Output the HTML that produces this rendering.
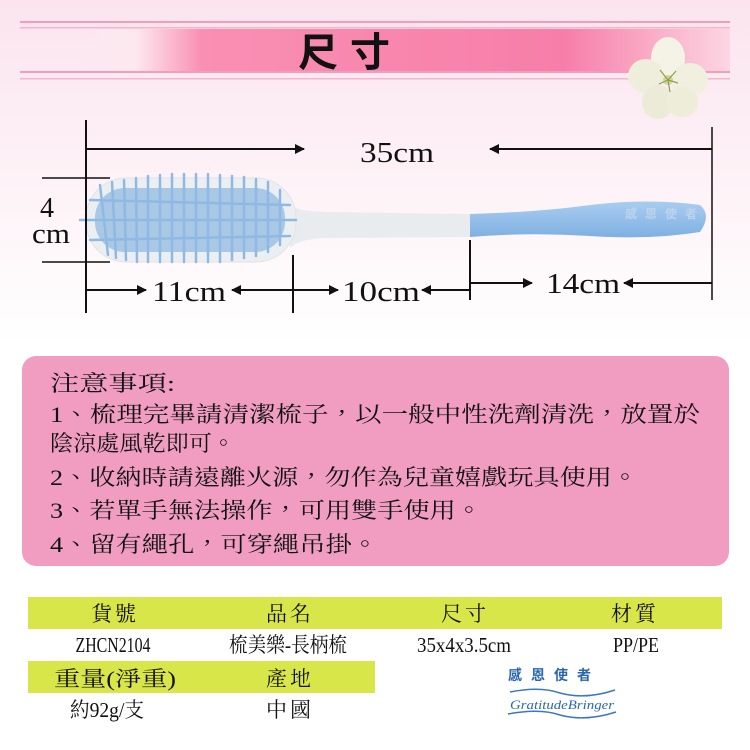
<!DOCTYPE html>
<html><head><meta charset="utf-8"><style>
html,body{margin:0;padding:0;background:#fff}
svg{display:block}
.s{font-family:"Liberation Serif","Noto Serif CJK TC","Noto Serif CJK SC",serif;fill:#111}
</style></head><body>
<svg width="750" height="750" viewBox="0 0 750 750" xmlns="http://www.w3.org/2000/svg">
<defs>
<linearGradient id="bg" x1="0" y1="0" x2="0" y2="1">
<stop offset="0" stop-color="#fbe4ee"/><stop offset="1" stop-color="#ffffff"/></linearGradient>
<linearGradient id="band" x1="0" y1="0" x2="1" y2="0">
<stop offset="0" stop-color="#fde8ef" stop-opacity="0"/><stop offset="0.1" stop-color="#fde8ef"/><stop offset="0.2" stop-color="#f98fb3"/><stop offset="0.75" stop-color="#f77ea8"/><stop offset="1" stop-color="#fcd6e3"/></linearGradient>
<linearGradient id="blue" x1="0" y1="0" x2="0" y2="1">
<stop offset="0" stop-color="#a9cdf0"/><stop offset="1" stop-color="#7fb0e2"/></linearGradient>
<marker id="ah" viewBox="0 0 10 10" refX="9" refY="5" markerWidth="5" markerHeight="5" orient="auto-start-reverse"><path d="M0,0 L10,5 L0,10 z" fill="#111"/></marker>
</defs>
<rect x="0" y="0" width="750" height="345" fill="url(#bg)"/>
<!-- title band -->
<rect x="20" y="21" width="710" height="2" fill="#f59cbb"/>
<rect x="20" y="27" width="710" height="1.5" fill="#f8b3c9"/>
<rect x="70" y="29" width="660" height="42" fill="url(#band)"/>
<rect x="20" y="71" width="710" height="2" fill="#f59cbb"/>
<rect x="20" y="78" width="710" height="1.5" fill="#f8b3c9"/>
<text x="350" y="66" font-family="'Noto Sans CJK TC','Noto Sans CJK SC',sans-serif" font-size="40" font-weight="bold" text-anchor="middle" fill="#111" letter-spacing="12">尺寸</text>
<!-- flower -->
<g transform="translate(668,80)">
<ellipse cx="0" cy="-22" rx="17" ry="21" fill="#f5f3e6"/>
<ellipse cx="-22" cy="-4" rx="18" ry="17" fill="#efeedd"/>
<ellipse cx="22" cy="0" rx="18" ry="17" fill="#f1f0e0"/>
<ellipse cx="-10" cy="22" rx="16" ry="17" fill="#ecebd8"/>
<ellipse cx="14" cy="22" rx="16" ry="15" fill="#eeedda"/>
<circle cx="0" cy="0" r="5" fill="#cfd79a"/>
<path d="M0 0 L-8 -10 M0 0 L8 -9 M0 0 L10 3 M0 0 L-9 4 M0 0 L2 12" stroke="#8ca04a" stroke-width="1.2"/>
</g>
<!-- brush -->
<path d="M290 205 Q300 212 330 212 L470 214 L470 237 L330 238 Q300 238 290 248 Z" fill="#e9ecee"/>
<path d="M470 214 Q540 212 590 205 Q650 198 700 205 Q712 215 700 232 Q650 240 590 236 Q530 232 470 237 Z" fill="url(#blue)"/>
<rect x="86" y="178" width="210" height="84" rx="40" fill="#eceff2" stroke="#dfe3e7"/>
<rect x="95" y="188" width="190" height="64" rx="30" fill="#a8c8e6"/>
<g stroke="#8fb9e3" stroke-width="2.5" stroke-linecap="round">
<path d="M100 185 L108 255 M112 182 L116 258 M124 180 L126 260 M136 178 L137 262 M148 176 L148 262 M160 175 L160 262 M172 174 L172 262 M184 174 L184 262 M196 174 L196 262 M208 174 L208 262 M220 175 L220 262 M232 176 L232 260 M244 177 L244 258 M256 179 L256 256 M268 182 L268 252 M280 190 L280 245"/>
<path d="M80 220 L296 220 M90 200 L290 205 M90 240 L290 236"/>
</g>
<!-- dimension lines -->
<g stroke="#111" stroke-width="2" fill="none">
<line x1="86" y1="120" x2="86" y2="313"/>
<line x1="293" y1="255" x2="293" y2="313"/>
<line x1="470" y1="240" x2="470" y2="300"/>
<line x1="712" y1="127" x2="712" y2="300" stroke-width="1.5"/>
<line x1="42" y1="178" x2="110" y2="178" stroke-width="1.5"/>
<line x1="42" y1="262" x2="110" y2="262" stroke-width="1.5"/>
<line x1="86" y1="149" x2="304" y2="149" marker-end="url(#ah)"/>
<line x1="712" y1="149" x2="490" y2="149" marker-end="url(#ah)"/>
<line x1="86" y1="290" x2="146" y2="290" marker-end="url(#ah)"/>
<line x1="232" y1="290" x2="338" y2="290" marker-start="url(#ah)" marker-end="url(#ah)"/>
<line x1="470" y1="290" x2="422" y2="290" marker-end="url(#ah)"/>
<line x1="470" y1="283" x2="532" y2="283" marker-end="url(#ah)"/>
<line x1="712" y1="283" x2="624" y2="283" marker-end="url(#ah)"/>
</g>
<g class="s" font-size="28">
<text x="360" y="162" textLength="74" lengthAdjust="spacingAndGlyphs">35cm</text>
<text x="152" y="301" textLength="74" lengthAdjust="spacingAndGlyphs">11cm</text>
<text x="342" y="301" textLength="78" lengthAdjust="spacingAndGlyphs">10cm</text>
<text x="546" y="293" textLength="74" lengthAdjust="spacingAndGlyphs">14cm</text>
<text x="40" y="217">4</text>
<text x="32" y="243" textLength="38" lengthAdjust="spacingAndGlyphs">cm</text>
</g>
<g font-family="'Noto Sans CJK TC',sans-serif" font-size="12" font-weight="bold" fill="#c5d8ee" opacity="0.8"><text x="625" y="218" letter-spacing="8">感恩使者</text></g>
<!-- notes -->
<rect x="22" y="356" width="707" height="210" rx="14" fill="#f19dc2"/>
<g class="s" font-size="22">
<text x="50" y="391" textLength="125" lengthAdjust="spacingAndGlyphs">注意事項:</text>
<text x="50" y="422" textLength="650" lengthAdjust="spacingAndGlyphs">1、梳理完畢請清潔梳子，以一般中性洗劑清洗，放置於</text>
<text x="50" y="451" textLength="185" lengthAdjust="spacingAndGlyphs">陰涼處風乾即可。</text>
<text x="50" y="485" textLength="588" lengthAdjust="spacingAndGlyphs">2、收納時請遠離火源，勿作為兒童嬉戲玩具使用。</text>
<text x="50" y="518" textLength="432" lengthAdjust="spacingAndGlyphs">3、若單手無法操作，可用雙手使用。</text>
<text x="50" y="552" textLength="328" lengthAdjust="spacingAndGlyphs">4、留有繩孔，可穿繩吊掛。</text>
</g>
<!-- table -->
<rect x="28" y="597" width="694" height="32" fill="#d8e64a"/>
<rect x="28" y="661" width="347" height="32" fill="#d8e64a"/>
<g class="s" font-size="21" text-anchor="middle">
<text x="115" y="621" letter-spacing="3">貨號</text>
<text x="290" y="621" letter-spacing="3">品名</text>
<text x="465" y="621" letter-spacing="3">尺寸</text>
<text x="635" y="621" letter-spacing="3">材質</text>
<text x="113" y="652" textLength="75" lengthAdjust="spacingAndGlyphs">ZHCN2104</text>
<text x="288" y="652" textLength="118" lengthAdjust="spacingAndGlyphs">梳美樂-長柄梳</text>
<text x="464" y="652" textLength="94" lengthAdjust="spacingAndGlyphs">35x4x3.5cm</text>
<text x="636" y="652" textLength="46" lengthAdjust="spacingAndGlyphs">PP/PE</text>
<text x="115" y="686" textLength="122" lengthAdjust="spacingAndGlyphs">重量(淨重)</text>
<text x="290" y="686" letter-spacing="3">產地</text>
<text x="107" y="717" textLength="74" lengthAdjust="spacingAndGlyphs">約92g/支</text>
<text x="290" y="717" letter-spacing="3">中國</text>
</g>
<!-- logo -->
<g font-family="'Noto Sans CJK TC',sans-serif" font-size="14" font-weight="bold" fill="#2a66b0"><text x="508" y="680" letter-spacing="9">感恩使者</text></g>
<path d="M510 692 Q540 686 560 693 Q585 700 615 690" stroke="#3a78c0" stroke-width="1.5" fill="none"/>
<path d="M508 714 Q540 708 560 715 Q585 722 616 712" stroke="#3a78c0" stroke-width="1.5" fill="none"/>
<text x="510" y="709" font-family="'Liberation Serif',serif" font-style="italic" font-size="13" fill="#2a66b0" textLength="104" lengthAdjust="spacingAndGlyphs">GratitudeBringer</text>
</svg>
</body></html>
